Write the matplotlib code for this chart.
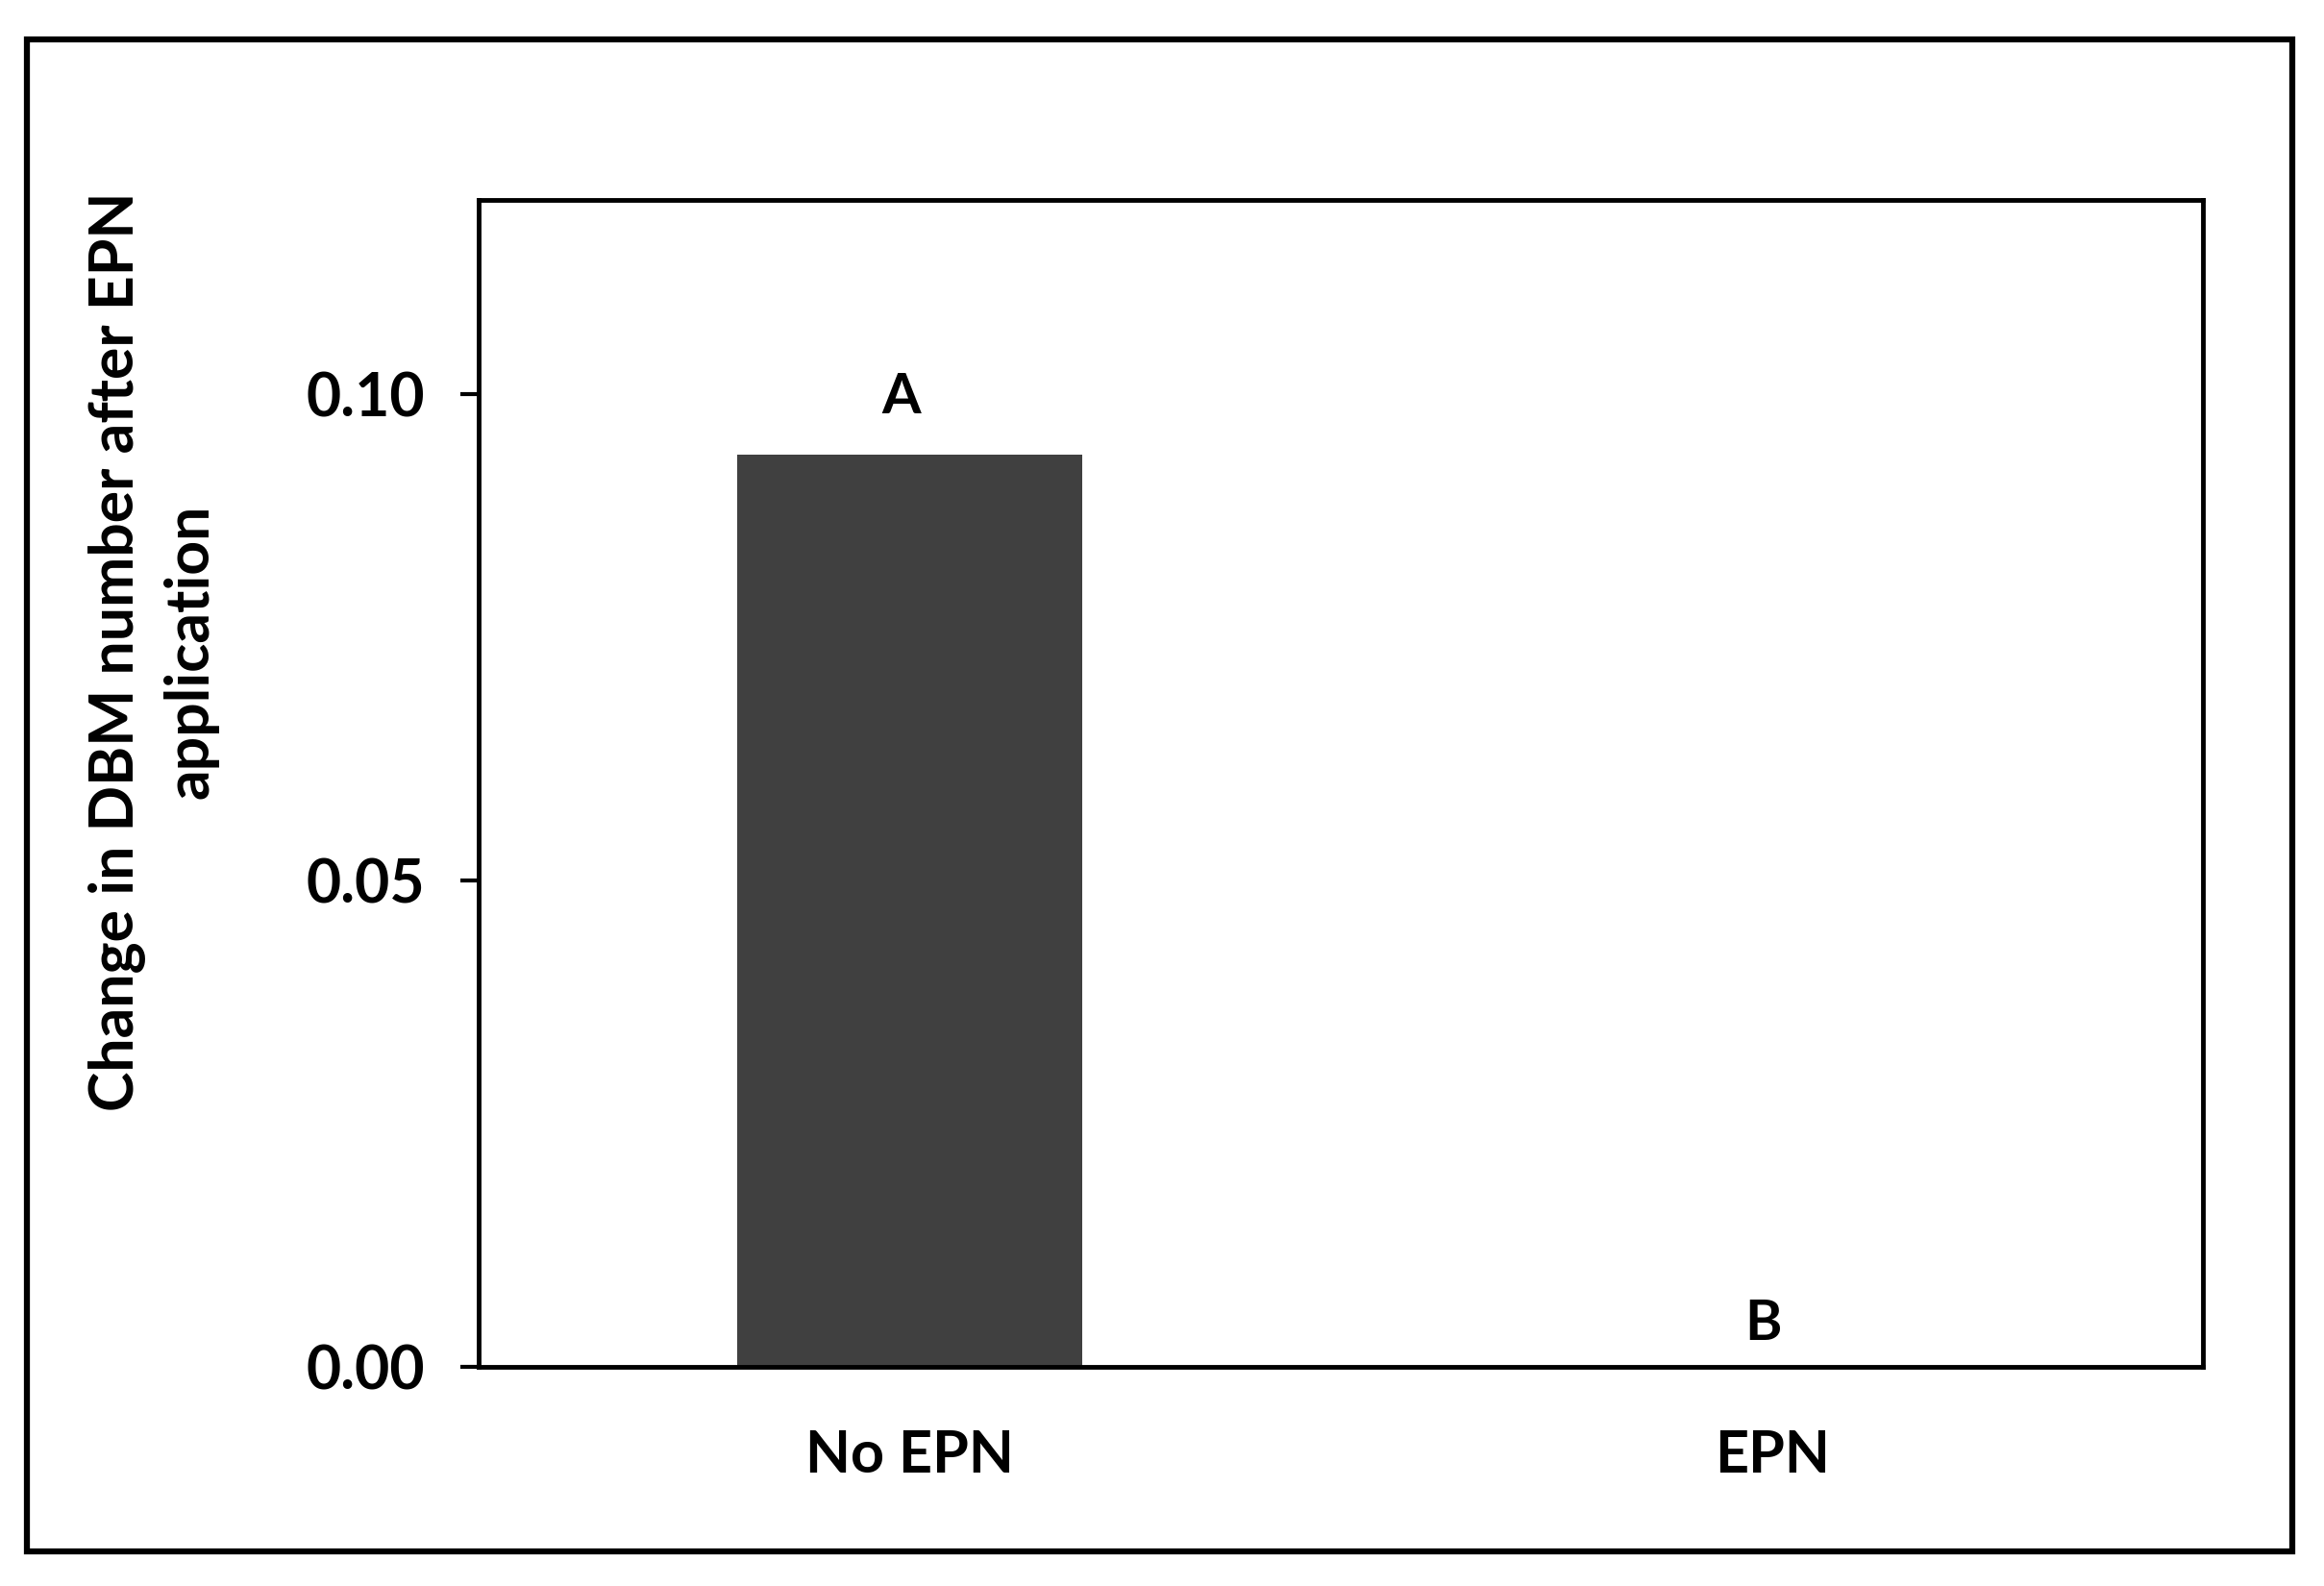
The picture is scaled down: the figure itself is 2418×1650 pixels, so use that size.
import matplotlib
matplotlib.use('Agg')
import matplotlib.pyplot as plt
from matplotlib.patches import Rectangle

# data
groups = ['No EPN', 'EPN']
change = [0.0938, 0.0]
letters = ['A', 'B']
letter_y = [0.0997, 0.0044]
yticks = [0.00, 0.05, 0.10]

plt.rcParams['font.family'] = ['Lato', 'DejaVu Sans']
plt.rcParams['font.weight'] = 'bold'

fig = plt.figure(figsize=(24.18, 16.5), dpi=100)
ax = fig.add_axes([0.206, 0.138, 0.742, 0.736])

x = list(range(len(groups)))
ax.bar(x, change, width=0.4, color='#404040')

# significance letters, nudged a bit left like the original
for xi, lab, ly in zip(x, letters, letter_y):
    ax.text(xi - 0.01, ly, lab, ha='center', va='center', fontsize=42, fontweight='bold')

ax.set_xlim(-0.5, 1.5)
ax.set_ylim(0, 0.12)
ax.set_xticks(x)
ax.set_xticklabels(groups, fontsize=44, fontweight='bold')
ax.set_yticks(yticks)
ax.set_yticklabels(['{:.2f}'.format(v) for v in yticks], fontsize=45, fontweight='bold')
ax.tick_params(axis='x', length=0, pad=46)
ax.tick_params(axis='y', length=14, width=3, pad=26, direction='out')

for s in ax.spines.values():
    s.set_linewidth(3.5)
    s.set_color('black')

fig.text(0.066, 0.589, 'Change in DBM number after EPN\napplication', rotation=90,
         ha='center', va='center', multialignment='center',
         fontsize=45, fontweight='bold', linespacing=1.4)

# outer frame
fig.patches.append(Rectangle((0.0115, 0.022), 0.975, 0.953, transform=fig.transFigure,
                             fill=False, lw=4.5, edgecolor='black'))

plt.savefig('out.png', dpi=100)
